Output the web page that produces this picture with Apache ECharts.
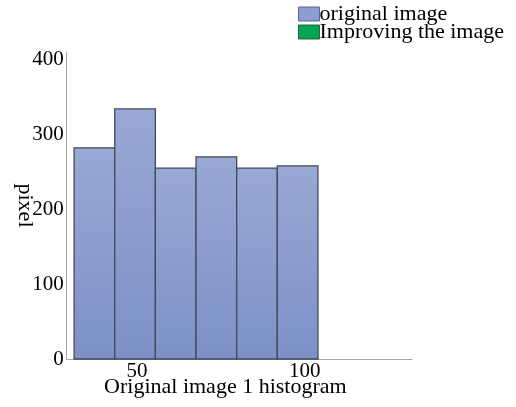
<!DOCTYPE html>
<html>
<head>
<meta charset="utf-8">
<script src="https://cdn.jsdelivr.net/npm/echarts@6/dist/echarts.min.js"></script>
<style>html,body{margin:0;padding:0;background:#fff}#c{width:516px;height:407px}</style>
</head>
<body>
<div id="c"></div>
<script>
// Histogram bins (bin start / end on the x value scale) and pixel counts
var binStart = [31.3, 43.4, 55.5, 67.6, 79.7, 91.8];
var binEnd   = [43.4, 55.5, 67.6, 79.7, 91.8, 103.9];
var counts   = [282, 334, 255, 270, 255, 258];
var xTickLabels = [50, 100];
var yTickLabels = [0, 100, 200, 300, 400];
var seriesNames = ['original image', 'Improving the image'];

var chart = echarts.init(document.getElementById('c'), null, {renderer: 'canvas'});
var FONT = '"Liberation Serif", "Times New Roman", serif';
var barFill = new echarts.graphic.LinearGradient(0, 0, 0, 1, [
  {offset: 0, color: '#99a8d5'},
  {offset: 1, color: '#7d91c6'}
]);
var data = binStart.map(function (s, i) { return [s, binEnd[i], counts[i]]; });

chart.setOption({
  animation: false,
  backgroundColor: '#fff',
  grid: {left: 66.7, right: 104, top: 52, bottom: 48, containLabel: false, outerBoundsMode: 'none'},
  legend: {
    orient: 'vertical', left: 298, top: 3, padding: 0, itemWidth: 21, itemHeight: 14, itemGap: -4, icon: 'rect',
    textStyle: {fontFamily: FONT, fontSize: 22, color: '#000', lineHeight: 18, padding: [0, 0, 0, -5]},
    data: [
      {name: seriesNames[0], itemStyle: {color: '#8c9dcf', borderColor: '#5a6690', borderWidth: 1}},
      {name: seriesNames[1], itemStyle: {color: '#00a651', borderColor: '#2f5f3f', borderWidth: 1}}
    ]
  },
  xAxis: {
    type: 'value', min: 29.1, max: 131.9,
    name: 'Original image 1 histogram', nameLocation: 'middle', nameGap: 17, nameMoveOverlap: false,
    nameTextStyle: {fontFamily: FONT, fontSize: 22, color: '#000', padding: [0, 28, 0, 0]},
    axisLine: {show: true, lineStyle: {color: '#a6a6a6', width: 1}},
    axisTick: {show: false},
    splitLine: {show: false},
    axisLabel: {customValues: xTickLabels, fontFamily: FONT, fontSize: 21, color: '#000', margin: 2}
  },
  yAxis: {
    type: 'value', min: 0, max: 410,
    name: 'pixel', nameLocation: 'middle', nameRotate: -90, nameGap: 30.5, nameMoveOverlap: false,
    nameTextStyle: {fontFamily: FONT, fontSize: 22, color: '#000'},
    axisLine: {show: true, lineStyle: {color: '#a6a6a6', width: 1}},
    axisTick: {show: false},
    splitLine: {show: false},
    axisLabel: {customValues: yTickLabels, fontFamily: FONT, fontSize: 21, color: '#000', margin: 3}
  },
  series: [
    {
      name: seriesNames[0], type: 'custom',
      itemStyle: {color: '#8c9dcf'},
      renderItem: function (params, api) {
        var p0 = api.coord([api.value(0), api.value(2)]);
        var p1 = api.coord([api.value(1), 0]);
        return {
          type: 'rect',
          shape: {x: p0[0], y: p0[1], width: p1[0] - p0[0], height: p1[1] - p0[1]},
          style: {fill: barFill, stroke: '#444a55', lineWidth: 1.3}
        };
      },
      encode: {x: [0, 1], y: 2},
      data: data
    },
    {name: seriesNames[1], type: 'custom', itemStyle: {color: '#00a651'},
     renderItem: function () { return null; }, data: []}
  ]
});
</script>
</body>
</html>
